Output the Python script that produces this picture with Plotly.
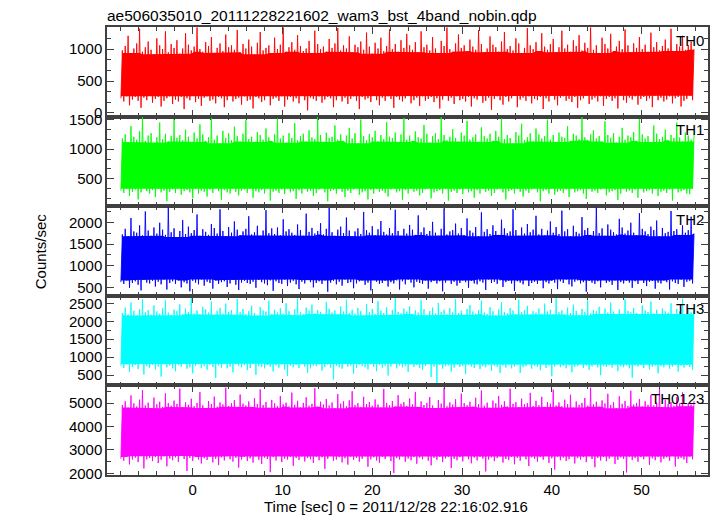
import numpy as np
import pandas as pd
import plotly.graph_objects as go
from plotly.subplots import make_subplots

TITLE = "ae506035010_20111228221602_wam3_bst_4band_nobin.qdp"
XTITLE = "Time [sec] 0 = 2011/12/28 22:16:02.916"
YTITLE = "Counts/sec"
BANDS = ["TH0", "TH1", "TH2", "TH3", "TH0123"]
COLORS = ["#ff0000", "#00ff00", "#0000ff", "#00ffff", "#ff00ff"]

T_START = -8.0
BIN = 0.32

# per-bin high / low excursions
hi0 = [980, 1050, 1210, 940, 1010, 1090, 1320, 960, 1030, 1120,
       990, 920, 1170, 1060, 1000, 1280, 950, 1080, 1020, 1140,
       930, 1010, 1250, 1070, 980, 1040, 1340, 1000, 960, 1110,
       1050, 1190, 940, 1020, 1090, 970, 1230, 1030, 1060, 990,
       1300, 950, 1080, 1010, 1150, 1040, 920, 1100, 1270, 980,
       1020, 1060, 940, 1180, 1000, 1070, 1340, 960, 1030, 1110,
       990, 1220, 1050, 970, 1010, 1130, 940, 1290, 1080, 1000,
       1040, 960, 1160, 1020, 1090, 1330, 980, 1060, 1010, 1200,
       950, 1070, 1030, 1120, 990, 1260, 1040, 930, 1100, 1010,
       1180, 970, 1050, 1310, 1000, 1080, 960, 1140, 1020, 1240,
       1060, 990, 1110, 950, 1280, 1030, 1070, 980, 1190, 1010,
       940, 1130, 1050, 1340, 1000, 960, 1090, 1230, 1020, 1060,
       970, 1150, 1040, 990, 1300, 1080, 950, 1010, 1200, 1070,
       1030, 960, 1120, 1270, 1000, 1050, 980, 1170, 1090, 940,
       1020, 1330, 1060, 1000, 1110, 970, 1250, 1040, 990, 1080,
       1160, 950, 1030, 1290, 1010, 1070, 960, 1140, 1050, 1220,
       980, 1100, 1020, 1340, 990, 1060, 940, 1180, 1080, 1010,
       1240, 970, 1040, 1130, 1000, 1310, 1060, 950, 1090, 1020,
       1190, 1000, 1070, 960, 1260, 1030, 1110, 980, 1050, 1150,
       1010, 1320, 970, 1080, 1040, 1210, 990, 1060, 1120, 1000]
lo0 = [230, 180, 260, 120, 210, 250, 190, 80, 240, 200,
       270, 160, 220, 250, 100, 190, 230, 260, 140, 210,
       180, 250, 60, 230, 200, 270, 170, 220, 110, 240,
       260, 190, 210, 150, 250, 230, 90, 200, 270, 180,
       220, 240, 130, 260, 190, 210, 70, 250, 230, 170,
       200, 270, 120, 220, 240, 190, 260, 100, 210, 250,
       180, 230, 150, 270, 200, 40, 240, 220, 190, 260,
       160, 210, 250, 230, 90, 200, 270, 180, 240, 140,
       220, 260, 190, 60, 250, 210, 230, 170, 270, 200,
       120, 240, 190, 260, 220, 80, 250, 210, 180, 230,
       270, 150, 200, 240, 110, 260, 190, 220, 250, 170,
       230, 70, 210, 270, 190, 240, 140, 260, 200, 220,
       180, 250, 100, 230, 210, 270, 160, 190, 240, 50,
       220, 260, 200, 130, 250, 180, 230, 270, 90, 210,
       240, 190, 260, 150, 220, 200, 250, 60, 230, 180,
       270, 210, 120, 240, 260, 190, 220, 170, 250, 80,
       200, 230, 270, 140, 210, 240, 180, 260, 110, 220,
       250, 190, 230, 70, 270, 200, 160, 240, 210, 260,
       130, 220, 250, 190, 230, 90, 270, 200, 240, 180,
       210, 260, 150, 230, 250, 100, 190, 220, 270, 200]

hi1 = [1180, 1250, 1120, 1390, 1210, 1160, 1300, 1540, 1140, 1230,
       1270, 1110, 1200, 1450, 1170, 1260, 1130, 1220, 1510, 1190,
       1240, 1150, 1330, 1210, 1120, 1280, 1180, 1420, 1250, 1140,
       1200, 1530, 1160, 1230, 1100, 1310, 1190, 1270, 1150, 1380,
       1220, 1130, 1260, 1490, 1170, 1210, 1120, 1290, 1240, 1160,
       1350, 1200, 1140, 1250, 1520, 1180, 1230, 1110, 1270, 1190,
       1440, 1150, 1220, 1260, 1130, 1320, 1200, 1170, 1540, 1240,
       1120, 1280, 1190, 1210, 1400, 1160, 1250, 1140, 1230, 1360,
       1180, 1270, 1100, 1500, 1220, 1150, 1260, 1200, 1310, 1130,
       1240, 1170, 1460, 1210, 1190, 1280, 1120, 1250, 1530, 1160,
       1230, 1140, 1300, 1200, 1180, 1410, 1260, 1110, 1220, 1270,
       1170, 1540, 1240, 1150, 1210, 1340, 1190, 1130, 1280, 1230,
       1480, 1160, 1200, 1250, 1120, 1370, 1220, 1180, 1260, 1140,
       1310, 1210, 1520, 1170, 1240, 1190, 1100, 1290, 1230, 1430,
       1150, 1200, 1270, 1130, 1350, 1250, 1180, 1220, 1500, 1160,
       1240, 1120, 1280, 1210, 1190, 1390, 1140, 1260, 1230, 1170,
       1540, 1200, 1150, 1250, 1320, 1180, 1220, 1130, 1470, 1240,
       1190, 1270, 1110, 1210, 1360, 1160, 1230, 1200, 1290, 1140,
       1510, 1250, 1180, 1220, 1120, 1400, 1260, 1170, 1210, 1330,
       1150, 1240, 1190, 1450, 1200, 1130, 1280, 1230, 1160, 1250]
lo1 = [300, 260, 330, 210, 280, 320, 150, 270, 340, 290,
       250, 310, 190, 330, 270, 300, 120, 280, 320, 260,
       340, 230, 290, 310, 270, 170, 330, 250, 300, 280,
       200, 320, 260, 340, 290, 140, 310, 270, 250, 330,
       280, 220, 300, 320, 260, 340, 180, 290, 270, 310,
       250, 330, 130, 280, 300, 260, 320, 240, 340, 270,
       290, 160, 310, 250, 330, 280, 300, 210, 260, 320,
       340, 270, 120, 290, 310, 250, 330, 280, 190, 300,
       260, 320, 340, 230, 270, 290, 150, 310, 250, 330,
       280, 300, 260, 200, 320, 340, 270, 290, 140, 310,
       250, 330, 280, 300, 220, 260, 320, 340, 170, 270,
       290, 310, 250, 330, 130, 280, 300, 260, 320, 240,
       340, 270, 290, 180, 310, 250, 330, 280, 300, 210,
       260, 320, 340, 270, 150, 290, 310, 250, 330, 280,
       200, 300, 260, 320, 340, 270, 120, 290, 310, 250,
       330, 230, 280, 300, 260, 320, 190, 340, 270, 290,
       310, 250, 160, 330, 280, 300, 260, 320, 340, 220,
       270, 290, 310, 140, 250, 330, 280, 300, 260, 320,
       180, 340, 270, 290, 310, 250, 330, 210, 280, 300,
       260, 320, 130, 340, 270, 290, 310, 250, 240, 330]

hi2 = [1720, 1850, 1680, 2100, 1790, 1760, 1930, 1700, 2250, 1810,
       1690, 1880, 1740, 1990, 1830, 1710, 2340, 1770, 1860, 1660,
       1800, 2050, 1730, 1900, 1750, 1820, 2180, 1690, 1840, 1780,
       1710, 1960, 1870, 1740, 2300, 1800, 1680, 1890, 1760, 2020,
       1830, 1700, 1790, 1850, 2140, 1720, 1770, 1920, 1690, 1810,
       2280, 1750, 1860, 1730, 1880, 1700, 2070, 1790, 1840, 1760,
       1710, 1950, 1820, 1690, 2200, 1780, 1870, 1740, 1800, 1980,
       1720, 1850, 2330, 1770, 1690, 1830, 1900, 1750, 2110, 1810,
       1680, 1790, 1860, 1730, 2240, 1820, 1760, 1910, 1700, 1840,
       2030, 1780, 1720, 1870, 1750, 2290, 1800, 1690, 1850, 1740,
       1940, 1830, 1710, 2160, 1770, 1880, 1730, 1800, 2010, 1760,
       1690, 1850, 2320, 1720, 1790, 1820, 1970, 1740, 1870, 1700,
       2090, 1810, 1760, 1890, 1680, 2230, 1780, 1840, 1730, 1930,
       1800, 1710, 2060, 1860, 1750, 1790, 2300, 1820, 1690, 1880,
       1740, 1960, 1770, 1830, 2150, 1720, 1850, 1700, 1810, 2020,
       1760, 1890, 1730, 2270, 1790, 1840, 1680, 1920, 1780, 1740,
       2120, 1820, 1870, 1710, 1800, 2340, 1750, 1860, 1690, 1950,
       1830, 1770, 1720, 2080, 1880, 1740, 1810, 1990, 1760, 1700,
       2210, 1850, 1790, 1730, 1900, 1820, 2040, 1680, 1870, 1750,
       1780, 2260, 1800, 1840, 1710, 1930, 1760, 1820, 2130, 1740]
lo2 = [620, 580, 660, 490, 600, 640, 560, 430, 670, 610,
       590, 650, 520, 630, 570, 680, 450, 600, 640, 580,
       660, 500, 620, 590, 410, 650, 610, 570, 680, 540,
       630, 600, 470, 660, 580, 620, 640, 510, 590, 670,
       560, 440, 610, 650, 600, 580, 630, 490, 670, 620,
       590, 550, 660, 420, 640, 600, 580, 680, 530, 610,
       650, 570, 460, 630, 590, 670, 620, 500, 600, 640,
       580, 660, 400, 610, 650, 570, 630, 540, 680, 600,
       620, 480, 590, 640, 660, 560, 610, 430, 670, 630,
       580, 600, 650, 520, 620, 590, 660, 450, 640, 570,
       680, 610, 500, 630, 600, 580, 660, 470, 620, 650,
       590, 640, 410, 610, 670, 580, 630, 540, 600, 660,
       620, 490, 650, 590, 570, 640, 610, 440, 680, 600,
       630, 580, 660, 510, 620, 650, 590, 420, 640, 610,
       570, 670, 530, 600, 630, 580, 660, 480, 620, 590,
       650, 610, 460, 640, 600, 680, 570, 520, 630, 660,
       590, 620, 400, 650, 610, 580, 640, 500, 670, 600,
       630, 560, 660, 440, 620, 590, 650, 610, 490, 640,
       580, 670, 600, 530, 630, 650, 470, 610, 590, 660,
       620, 450, 640, 600, 580, 680, 510, 630, 650, 590]

hi3 = [2230, 2380, 2190, 2520, 2290, 2160, 2340, 2610, 2250, 2310,
       2180, 2440, 2270, 2210, 2360, 2580, 2240, 2170, 2320, 2280,
       2470, 2200, 2350, 2260, 2640, 2220, 2300, 2190, 2400, 2330,
       2240, 2550, 2170, 2290, 2370, 2210, 2490, 2260, 2310, 2180,
       2620, 2250, 2340, 2200, 2280, 2430, 2230, 2160, 2390, 2300,
       2270, 2570, 2190, 2320, 2240, 2360, 2210, 2500, 2280, 2170,
       2330, 2630, 2250, 2200, 2380, 2290, 2460, 2220, 2310, 2260,
       2180, 2540, 2350, 2240, 2300, 2190, 2410, 2270, 2600, 2230,
       2320, 2210, 2370, 2280, 2160, 2480, 2250, 2340, 2200, 2560,
       2290, 2230, 2390, 2180, 2310, 2640, 2260, 2220, 2350, 2270,
       2420, 2200, 2300, 2240, 2590, 2330, 2170, 2280, 2380, 2210,
       2510, 2260, 2320, 2190, 2360, 2250, 2620, 2230, 2290, 2180,
       2340, 2450, 2270, 2210, 2310, 2570, 2240, 2200, 2390, 2280,
       2160, 2330, 2530, 2260, 2220, 2370, 2300, 2190, 2600, 2250,
       2310, 2430, 2180, 2280, 2240, 2350, 2210, 2490, 2270, 2320,
       2200, 2640, 2250, 2300, 2190, 2380, 2230, 2460, 2290, 2170,
       2340, 2260, 2580, 2220, 2310, 2280, 2400, 2200, 2350, 2240,
       2520, 2270, 2180, 2330, 2210, 2610, 2290, 2250, 2370, 2230,
       2190, 2440, 2300, 2260, 2550, 2220, 2320, 2180, 2360, 2280,
       2240, 2500, 2210, 2340, 2270, 2620, 2200, 2310, 2250, 2390]
lo3 = [760, 700, 800, 590, 730, 780, 670, 820, 520, 750,
       710, 790, 660, 740, 460, 800, 720, 770, 690, 610,
       780, 740, 810, 680, 720, 550, 760, 800, 700, 750,
       650, 790, 730, 420, 770, 710, 810, 690, 740, 580,
       800, 760, 720, 780, 640, 700, 820, 510, 750, 730,
       690, 790, 740, 600, 770, 710, 800, 660, 480, 760,
       720, 780, 700, 810, 740, 570, 690, 770, 750, 800,
       630, 730, 790, 710, 380, 760, 720, 680, 810, 740,
       770, 540, 700, 790, 750, 720, 660, 800, 730, 610,
       780, 710, 760, 490, 740, 820, 690, 770, 720, 750,
       590, 800, 730, 780, 700, 650, 760, 810, 450, 740,
       280, 790, 680, 750, 770, 600, 710, 800, 730, 760,
       530, 780, 740, 700, 810, 670, 750, 720, 790, 620,
       760, 730, 560, 770, 710, 800, 690, 740, 780, 560,
       720, 750, 810, 680, 760, 730, 640, 790, 700, 770,
       470, 740, 800, 720, 760, 690, 780, 580, 730, 750,
       810, 700, 770, 650, 740, 790, 720, 500, 760, 730,
       780, 710, 800, 610, 750, 720, 770, 690, 430, 760,
       740, 790, 700, 810, 660, 730, 770, 550, 750, 720,
       800, 680, 740, 780, 600, 760, 710, 790, 730, 650]

hi4 = [4920, 5080, 4810, 5330, 4990, 4860, 5150, 5560, 4900, 5020,
       4780, 5240, 4950, 5060, 4840, 5420, 5000, 4890, 5110, 4970,
       5620, 4830, 5040, 4930, 5190, 4870, 5010, 5470, 4910, 4790,
       5090, 4960, 5280, 4850, 5030, 4940, 5660, 4880, 5000, 5130,
       4820, 5370, 4980, 4900, 5070, 4840, 5210, 4960, 5590, 4920,
       5050, 4800, 5140, 4990, 4870, 5300, 4950, 5020, 4860, 5450,
       4930, 5100, 4810, 5010, 5250, 4890, 4970, 5640, 4850, 5060,
       4940, 5180, 4900, 5030, 4780, 5390, 4980, 5080, 4870, 5120,
       5510, 4920, 5000, 4830, 5270, 4960, 5050, 4890, 5160, 4940,
       4810, 5610, 5010, 4910, 5090, 4860, 5340, 4970, 5040, 4880,
       5200, 4950, 5480, 4840, 5070, 4920, 5010, 5260, 4900, 4790,
       5130, 4980, 5650, 4870, 5030, 4940, 5170, 4830, 5410, 5000,
       4910, 5060, 4850, 5230, 4960, 5540, 4890, 5020, 4800, 5110,
       4990, 5310, 4930, 5080, 4860, 5620, 4970, 5040, 4820, 5190,
       4950, 5000, 5440, 4880, 5100, 4910, 5270, 4840, 5050, 4980,
       5580, 4900, 5030, 4870, 5150, 4960, 5360, 4810, 5070, 4930,
       5010, 5220, 4890, 5660, 4950, 5060, 4850, 5120, 4990, 5400,
       4920, 5040, 4780, 5290, 4970, 5090, 4880, 5530, 4940, 5010,
       5180, 4860, 5080, 4930, 5350, 4900, 5020, 5630, 4830, 5140,
       4960, 5050, 4890, 5250, 4990, 5460, 4870, 5000, 4940, 5100]
lo4 = [2620, 2540, 2700, 2380, 2590, 2670, 2480, 2730, 2210, 2600,
       2650, 2520, 2690, 2440, 2580, 2720, 2300, 2630, 2560, 2680,
       2490, 2740, 2610, 2100, 2660, 2530, 2700, 2590, 2420, 2640,
       2570, 2710, 2470, 2620, 2350, 2680, 2550, 2730, 2600, 2500,
       2660, 2250, 2590, 2700, 2530, 2640, 2460, 2720, 2580, 2400,
       2670, 2610, 2050, 2690, 2550, 2740, 2480, 2630, 2590, 2700,
       2320, 2650, 2570, 2720, 2510, 2660, 2600, 2440, 2710, 2560,
       2680, 2190, 2620, 2740, 2530, 2590, 2690, 2470, 2640, 2370,
       2710, 2580, 2660, 2500, 2620, 2730, 2280, 2600, 2680, 2550,
       2450, 2700, 2610, 2740, 2520, 2010, 2650, 2590, 2720, 2490,
       2630, 2560, 2690, 2410, 2670, 2600, 2730, 2540, 2340, 2660,
       2580, 2710, 2480, 2640, 2700, 2230, 2620, 2560, 2690, 2510,
       2740, 2600, 2430, 2670, 2550, 2710, 2630, 2080, 2590, 2680,
       2520, 2650, 2720, 2460, 2610, 2570, 2700, 2390, 2660, 2540,
       2730, 2600, 2310, 2680, 2620, 2500, 2690, 2580, 2740, 2450,
       2640, 2160, 2710, 2560, 2670, 2530, 2600, 2720, 2420, 2650,
       2590, 2690, 2480, 2740, 2610, 2260, 2660, 2550, 2700, 2520,
       2630, 2720, 2400, 2580, 2680, 2620, 2040, 2710, 2570, 2650,
       2500, 2690, 2600, 2730, 2360, 2640, 2560, 2700, 2470, 2620,
       2680, 2540, 2740, 2290, 2610, 2660, 2590, 2440, 2720, 2600]

HIS = [hi0, hi1, hi2, hi3, hi4]
LOS = [lo0, lo1, lo2, lo3, lo4]

# axis ranges / ticks
YRANGES = [[-58, 1348], [36, 1551], [305, 2372], [215, 2708], [1927, 5760]]
YDTICK = [500, 500, 500, 500, 1000]
YMINOR = [500 / 3, 500 / 3, 250, 250, 500]
XRANGE = [-9.55, 57.4]

FONT = "Liberation Sans, Arial, Helvetica, sans-serif"
FRAME = "#404040"
ENV_WINDOW = 9

fig = make_subplots(rows=5, cols=1, shared_xaxes=True, vertical_spacing=0)

for k in range(5):
    n = len(HIS[k])
    t = T_START + BIN * np.arange(n)
    t_hi = t + BIN / 2
    x = np.empty(2 * n)
    y = np.empty(2 * n)
    x[0::2] = t
    x[1::2] = t_hi
    y[0::2] = LOS[k]
    y[1::2] = HIS[k]

    # solid core: region covered by every neighbouring excursion
    env_hi = pd.Series(HIS[k]).rolling(ENV_WINDOW, center=True, min_periods=1).min().to_numpy()
    env_lo = pd.Series(LOS[k]).rolling(ENV_WINDOW, center=True, min_periods=1).max().to_numpy()
    px = np.concatenate([t_hi, t[::-1]])
    py = np.concatenate([env_hi, env_lo[::-1]])
    fig.add_trace(go.Scatter(x=px, y=py, mode="lines", fill="toself",
                             fillcolor=COLORS[k], line=dict(width=0, color=COLORS[k]),
                             hoverinfo="skip"),
                  row=k + 1, col=1)
    fig.add_trace(go.Scatter(x=x, y=y, mode="lines",
                             line=dict(width=0.9, color=COLORS[k]), hoverinfo="skip"),
                  row=k + 1, col=1)

    fig.update_yaxes(range=YRANGES[k], dtick=YDTICK[k], tick0=0,
                     ticks="inside", ticklen=7, tickcolor=FRAME, tickwidth=1,
                     minor=dict(dtick=YMINOR[k], tick0=0, ticks="inside", ticklen=4,
                                tickcolor=FRAME, tickwidth=1),
                     showline=True, mirror="ticks", linecolor=FRAME, linewidth=1.5,
                     showgrid=False, zeroline=False,
                     tickfont=dict(family=FONT, size=15, color="black"),
                     row=k + 1, col=1)
    fig.update_xaxes(range=XRANGE, dtick=10, tick0=0,
                     ticks="inside", ticklen=7, tickcolor=FRAME, tickwidth=1,
                     minor=dict(dtick=2, tick0=0, ticks="inside", ticklen=4,
                                tickcolor=FRAME, tickwidth=1),
                     showline=True, mirror="ticks", linecolor=FRAME, linewidth=1.5,
                     showgrid=False, zeroline=False,
                     showticklabels=(k == 4),
                     tickfont=dict(family=FONT, size=15, color="black"),
                     row=k + 1, col=1)
    axname = "x domain" if k == 0 else f"x{k + 1} domain"
    yname = "y domain" if k == 0 else f"y{k + 1} domain"
    fig.add_annotation(text=BANDS[k], xref=axname, yref=yname, x=0.997, y=0.97,
                       xanchor="right", yanchor="top", showarrow=False,
                       font=dict(family=FONT, size=15, color="black"))

fig.add_annotation(text=TITLE, xref="paper", yref="paper", x=-0.003, y=1.0,
                   xanchor="left", yanchor="bottom", showarrow=False, yshift=1,
                   font=dict(family=FONT, size=15.5, color="black"))
fig.add_annotation(text=XTITLE, xref="paper", yref="paper", x=0.481, y=0,
                   xanchor="center", yanchor="top", showarrow=False, yshift=-21,
                   font=dict(family=FONT, size=15, color="black"))
fig.add_annotation(text=YTITLE, xref="paper", yref="paper", x=-0.111, y=0.5,
                   xanchor="center", yanchor="middle", showarrow=False, textangle=-90,
                   font=dict(family=FONT, size=15, color="black"))

fig.update_layout(width=717, height=516, showlegend=False,
                  margin=dict(l=107, r=7, t=27, b=41),
                  plot_bgcolor="white", paper_bgcolor="white",
                  hovermode=False)

fig.write_html("out.html", config={"displayModeBar": False},
               post_script="document.body.style.margin='0px';document.body.style.overflow='hidden';")
